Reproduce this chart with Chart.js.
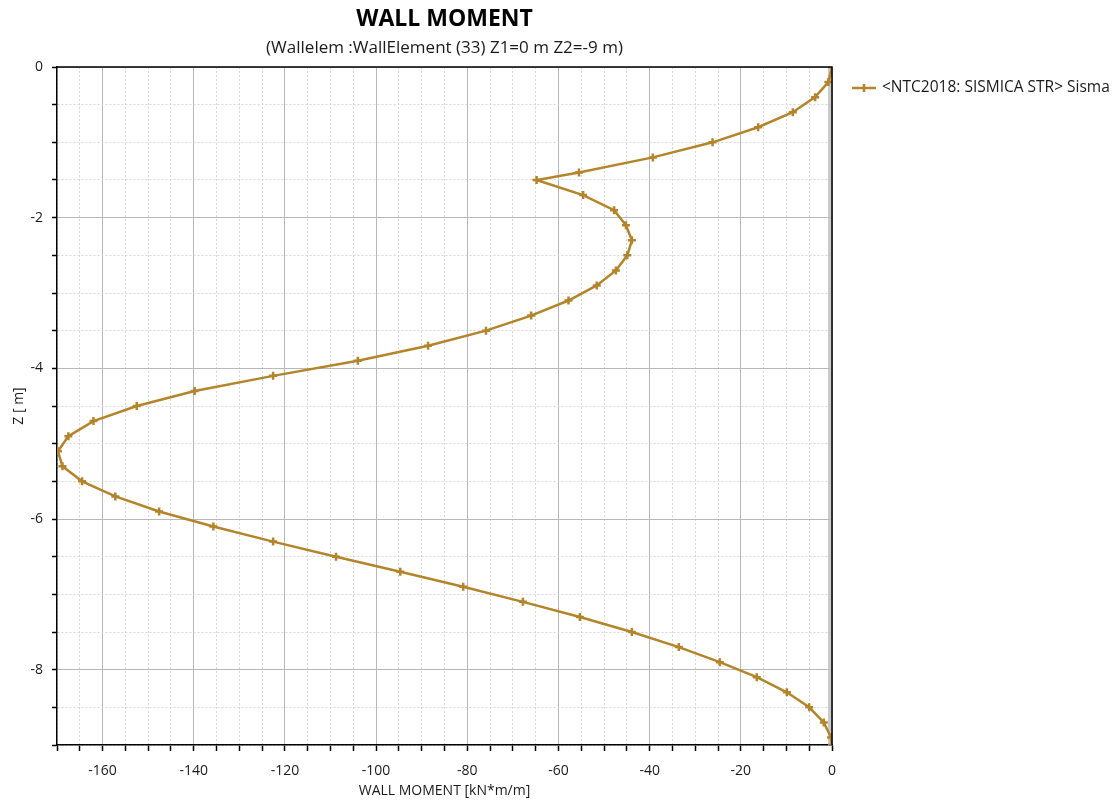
<!DOCTYPE html>
<html>
<head>
<meta charset="utf-8">
<title>Wall moment</title>
<script src="https://cdn.jsdelivr.net/npm/chart.js@4/dist/chart.umd.min.js"></script>
<style>
  html, body { margin: 0; padding: 0; background: #fff; }
  canvas { display: block; }
</style>
</head>
<body>
<canvas id="chart-moment" width="1116" height="802"></canvas>
<script>
// depth along the wall [m]
const depthZ = [0, -0.2, -0.4, -0.6, -0.8, -1.0, -1.2, -1.4, -1.5, -1.7, -1.9, -2.1, -2.3, -2.5, -2.7, -2.9,
    -3.1, -3.3, -3.5, -3.7, -3.9, -4.1, -4.3, -4.5, -4.7, -4.9, -5.1, -5.3, -5.5, -5.7, -5.9,
    -6.1, -6.3, -6.5, -6.7, -6.9, -7.1, -7.3, -7.5, -7.7, -7.9, -8.1, -8.3, -8.5, -8.7, -8.9, -9.0];
// bending moment [kN*m/m]
const wallMoment = [0, -0.8, -3.7, -8.6, -16.2, -26.2, -39.3, -55.5, -64.8, -54.6, -47.8, -45.2, -43.9, -44.9, -47.4, -51.6,
    -57.8, -66.0, -75.9, -88.6, -104.0, -122.6, -139.8, -152.5, -162.0, -167.5, -169.8, -168.8, -164.5, -157.2, -147.6,
    -135.7, -122.6, -108.8, -94.7, -80.9, -67.8, -55.3, -43.9, -33.6, -24.6, -16.5, -9.9, -5.0, -1.8, -0.2, 0];

const seriesLabel = '<NTC2018: SISMICA STR> Sisma';
const chartTitle = 'WALL MOMENT';
const chartSubtitle = '(Wallelem :WallElement (33) Z1=0 m Z2=-9 m)';
const xAxisTitle = 'WALL MOMENT [kN*m/m]';
const yAxisTitle = 'Z [ m]';

const xRange = [-170, 0];
const yRange = [-9, 0];
const xLabelEvery = 20;
const yLabelEvery = 2;

const lineColor = '#b3842a';
const fontFamily = "'Open Sans', 'Noto Sans', sans-serif";

const isMajor = (v, every) => Math.abs(v / every - Math.round(v / every)) < 1e-6;

// frame on top/right and the legend on the right side
const framePlugin = {
    id: 'frame',
    beforeDatasetsDraw(chart) {
        const { ctx, chartArea: a } = chart;
        ctx.save();
        ctx.fillStyle = 'rgba(190,190,190,0.8)';
        ctx.fillRect(a.right - 4, a.top, 4, a.bottom - a.top);
        ctx.restore();
    },
    afterDraw(chart) {
        const { ctx, chartArea: a } = chart;
        ctx.save();
        ctx.strokeStyle = '#000';
        ctx.lineWidth = 1.5;
        ctx.beginPath();
        ctx.moveTo(a.left, a.top);
        ctx.lineTo(a.right, a.top);
        ctx.lineTo(a.right, a.bottom);
        ctx.stroke();

        const ly = 88;
        const lx = a.right + 20;
        ctx.strokeStyle = lineColor;
        ctx.lineWidth = 2.5;
        ctx.beginPath();
        ctx.moveTo(lx, ly);
        ctx.lineTo(lx + 24, ly);
        ctx.moveTo(lx + 12, ly - 4);
        ctx.lineTo(lx + 12, ly + 4);
        ctx.stroke();
        ctx.fillStyle = '#1a1a1a';
        ctx.font = '15.5px ' + fontFamily;
        ctx.textBaseline = 'middle';
        ctx.fillText(chart.data.datasets[0].label, lx + 30, ly);
        ctx.restore();
    }
};

const ctxMoment = document.getElementById('chart-moment').getContext('2d');
const momentChart = new Chart(ctxMoment, {
    type: 'scatter',
    data: {
        datasets: [{
            label: seriesLabel,
            data: depthZ.map((z, i) => ({ x: wallMoment[i], y: z })),
            showLine: true,
            borderColor: lineColor,
            backgroundColor: lineColor,
            borderWidth: 2.5,
            tension: 0,
            pointStyle: 'cross',
            pointRadius: 4,
            pointBorderWidth: 2.5,
            pointHoverRadius: 4
        }]
    },
    options: {
        responsive: false,
        animation: false,
        layout: { padding: { left: 0, right: 284, top: 0, bottom: 0 } },
        plugins: {
            legend: { display: false },
            tooltip: { enabled: false },
            title: {
                display: true,
                text: chartTitle,
                fullSize: false,
                color: '#000',
                font: { family: fontFamily, size: 23, weight: 'bold' },
                padding: { top: 6, bottom: 1 }
            },
            subtitle: {
                display: true,
                text: chartSubtitle,
                fullSize: false,
                color: '#1a1a1a',
                font: { family: fontFamily, size: 17 },
                padding: { top: 3.5, bottom: 8.5 }
            }
        },
        scales: {
            x: {
                type: 'linear',
                min: xRange[0],
                max: xRange[1],
                afterFit: (scale) => { scale.height = 57; },
                ticks: {
                    stepSize: 5,
                    autoSkip: false,
                    maxRotation: 0,
                    padding: 12,
                    color: '#1a1a1a',
                    font: { family: fontFamily, size: 14 },
                    callback: (v) => isMajor(v, xLabelEvery) ? String(Math.round(v)) : ''
                },
                grid: {
                    color: (c) => isMajor(c.tick.value, xLabelEvery) ? '#b8b8b8' : '#d6d6d6',
                    lineWidth: 1,
                    tickColor: '#000',
                    tickLength: 6,
                    tickWidth: 1.5
                },
                border: {
                    color: '#000',
                    width: 1.5,
                    dash: (c) => (c.tick && !isMajor(c.tick.value, xLabelEvery)) ? [2, 2] : []
                },
                title: {
                    display: true,
                    text: xAxisTitle,
                    color: '#1a1a1a',
                    font: { family: fontFamily, size: 14 },
                    padding: { top: 0, bottom: 3 }
                }
            },
            y: {
                type: 'linear',
                min: yRange[0],
                max: yRange[1],
                afterFit: (scale) => { scale.width = 57; },
                ticks: {
                    stepSize: 0.5,
                    autoSkip: false,
                    padding: 9,
                    color: '#1a1a1a',
                    font: { family: fontFamily, size: 14 },
                    callback: (v) => isMajor(v, yLabelEvery) ? String(Math.round(v)) : ''
                },
                grid: {
                    color: (c) => isMajor(c.tick.value, yLabelEvery) ? '#b8b8b8' : '#d6d6d6',
                    lineWidth: 1,
                    tickColor: '#000',
                    tickLength: 5,
                    tickWidth: 1.5
                },
                border: {
                    color: '#000',
                    width: 1.5,
                    dash: (c) => (c.tick && !isMajor(c.tick.value, yLabelEvery)) ? [2, 2] : []
                },
                title: {
                    display: true,
                    text: yAxisTitle,
                    color: '#1a1a1a',
                    font: { family: fontFamily, size: 14 },
                    padding: { top: 11, bottom: 0 }
                }
            }
        }
    },
    plugins: [framePlugin]
});
</script>
</body>
</html>
